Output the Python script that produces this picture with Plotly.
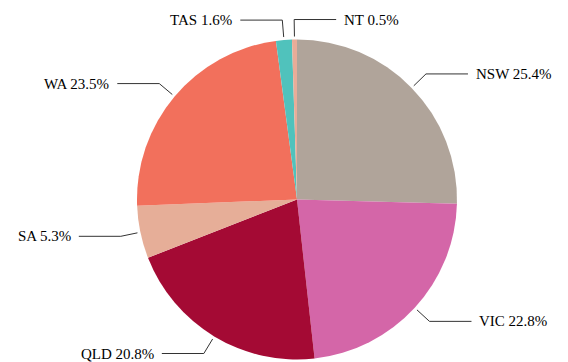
import math
import plotly.graph_objects as go

# ---- data ----
states = ["NSW", "VIC", "QLD", "SA", "WA", "TAS", "NT"]
shares = [25.4, 22.8, 20.8, 5.3, 23.5, 1.6, 0.5]
colors = ["#b0a49a", "#d466a8", "#a40a34", "#e6ae98", "#f2705c", "#50c2bc", "#e8ac98"]

# ---- geometry (pixels) ----
W, H = 568, 362
cx, cy, r = 297, 199.5, 160
r0, r1 = 163, 180      # label line start / elbow radius
L2 = 42                # horizontal segment length
gap = 6                # gap between line and text
font = dict(family="Liberation Serif, Times New Roman, serif", size=15, color="#000000")

fig = go.Figure()
fig.add_trace(go.Pie(
    labels=states, values=shares, sort=False, direction="clockwise", rotation=0,
    marker=dict(colors=colors, line=dict(width=0)),
    textinfo="none", hoverinfo="label+percent", showlegend=False,
    domain=dict(x=[(cx - r) / W, (cx + r) / W], y=[(H - cy - r) / H, (H - cy + r) / H]),
))

# label layout computed from the data
total = sum(shares)
cum = 0.0
items = []
for name, v in zip(states, shares):
    mid = (cum + v / 2) / total * 2 * math.pi
    cum += v
    dx, dy = math.sin(mid), -math.cos(mid)
    items.append(dict(name=name, v=v, dx=dx, dy=dy,
                      side=1 if dx >= 0 else -1,
                      y=cy + r1 * dy))

# resolve overlaps: if two labels on same side are too close vertically,
# flip the one nearest the vertical axis to the opposite side
for i in range(len(items)):
    for j in range(len(items)):
        if i == j:
            continue
        a, b = items[i], items[j]
        if a["side"] == b["side"] and abs(a["y"] - b["y"]) < 18:
            k = a if abs(a["dx"]) < abs(b["dx"]) else b
            k["side"] = -k["side"]

xs, ys = [], []
for it in items:
    x0, y0 = cx + r0 * it["dx"], cy + r0 * it["dy"]
    x1, y1 = cx + r1 * it["dx"], cy + r1 * it["dy"]
    x2 = x1 + it["side"] * L2
    xs += [x0, x1, x2, None]
    ys += [y0, y1, y1, None]
    fig.add_annotation(
        x=x2 + it["side"] * gap, y=y1, xref="x", yref="y",
        text=f"{it['name']} {it['v']:.1f}%", showarrow=False,
        xanchor="left" if it["side"] > 0 else "right", yanchor="middle",
        font=font,
    )

fig.add_trace(go.Scatter(x=xs, y=ys, mode="lines",
                         line=dict(color="#333333", width=1),
                         hoverinfo="skip", showlegend=False))

fig.update_layout(
    width=W, height=H, margin=dict(l=0, r=0, t=0, b=0),
    paper_bgcolor="white", plot_bgcolor="white",
    xaxis=dict(range=[0, W], visible=False, fixedrange=True),
    yaxis=dict(range=[H, 0], visible=False, fixedrange=True),
)

fig.write_html("out.html", config={"displayModeBar": False},
               post_script="document.body.style.margin='0px';document.body.style.overflow='hidden';")
